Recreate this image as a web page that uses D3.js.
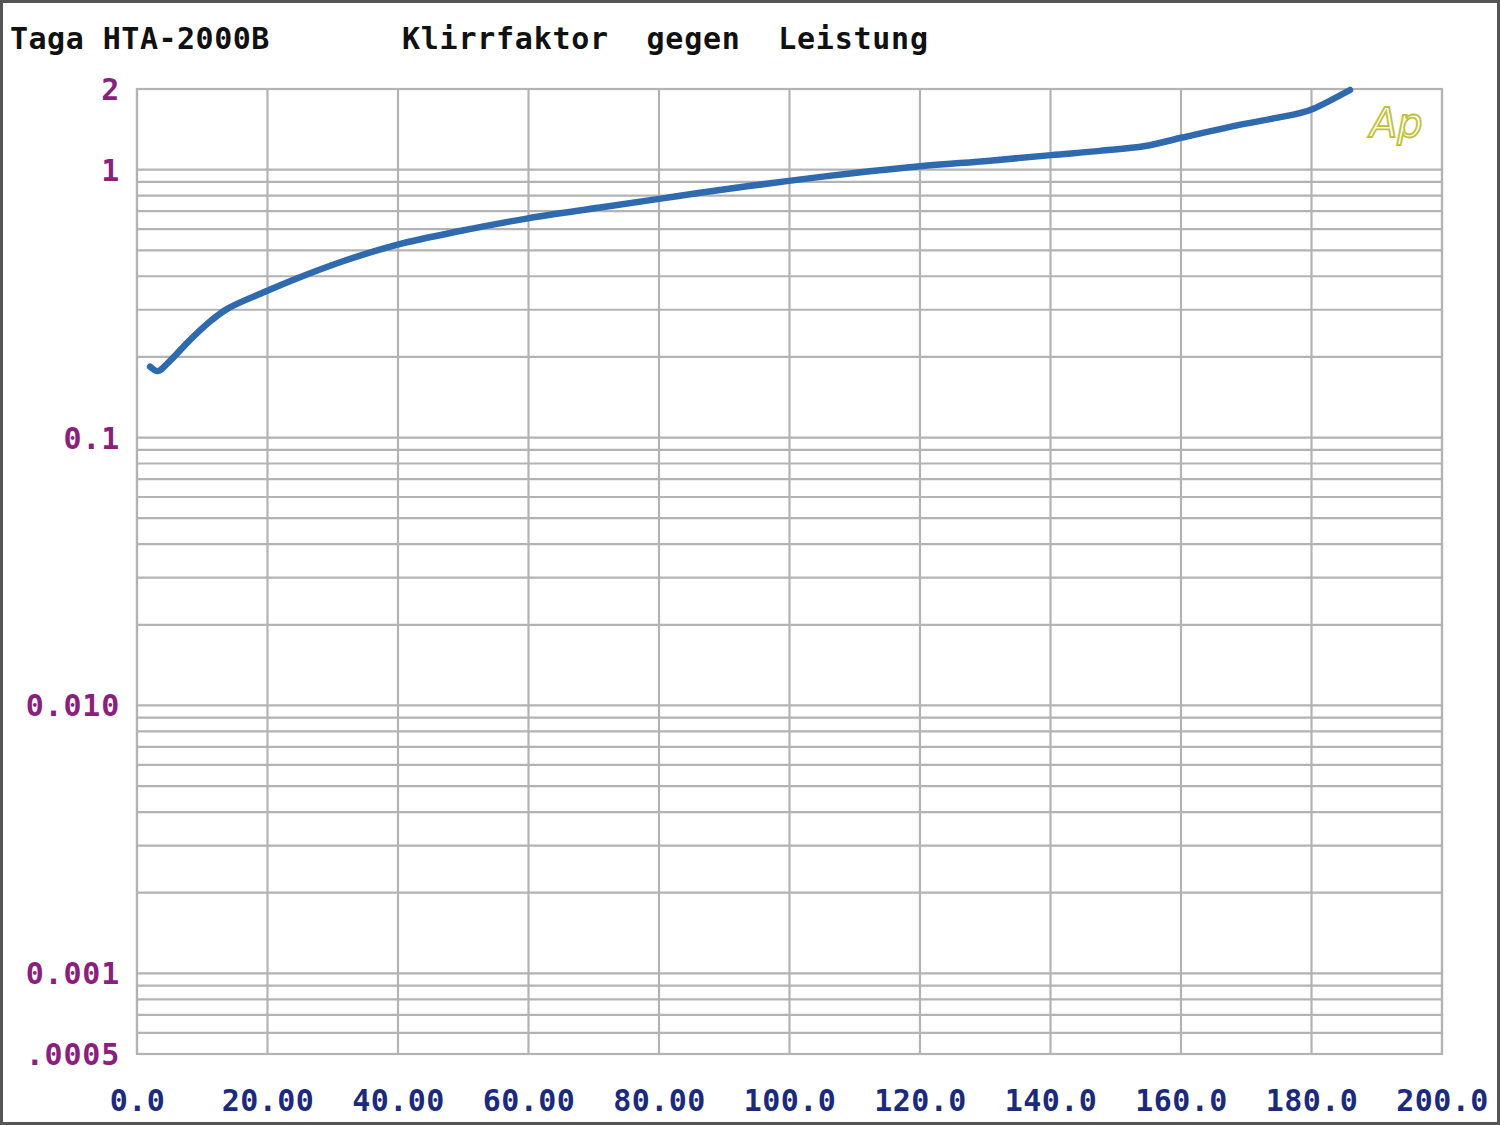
<!DOCTYPE html>
<html><head><meta charset="utf-8">
<script src="https://cdn.jsdelivr.net/npm/d3@7"></script>
<style>html,body{margin:0;padding:0;background:#fff;}svg{display:block;}</style>
</head><body>
<svg id="c" width="1500" height="1125"></svg>
<script>
// Data (power in W, THD in %)
const power = [2.0, 3.2, 4.75, 8.1, 11.5, 13.9, 19.6, 24.2, 31.9, 39.8, 49.5, 59.9, 71, 80, 86.3, 99.9, 109.3, 120, 130.7, 140.1, 147.6, 154.5, 160.2, 167.5, 175.2, 178.2, 180.2, 185.9];
const thd   = [0.184, 0.177, 0.190, 0.231, 0.275, 0.303, 0.350, 0.390, 0.458, 0.524, 0.590, 0.658, 0.722, 0.778, 0.820, 0.908, 0.968, 1.030, 1.080, 1.133, 1.175, 1.225, 1.318, 1.445, 1.570, 1.625, 1.684, 1.983];
const xTicks = [0, 20, 40, 60, 80, 100, 120, 140, 160, 180, 200];
const xTickLabels = ["0.0", "20.00", "40.00", "60.00", "80.00", "100.0", "120.0", "140.0", "160.0", "180.0", "200.0"];
const yTicks = [2, 1, 0.1, 0.01, 0.001, 0.0005];
const yTickLabels = ["2", "1", "0.1", "0.010", "0.001", ".0005"];
const titleLeft = "Taga HTA-2000B";
const titleRight = "Klirrfaktor  gegen  Leistung";

const svg = d3.select("#c");
const L = 137, R = 1442, T = 89, B = 1054;
const x = d3.scaleLinear().domain([0, 200]).range([L, R]);
const y = d3.scaleLog().domain([0.0005, 2]).range([B, T]);
const gridCol = "#b3b3b3";
const mono = "'DejaVu Sans Mono', 'Liberation Mono', monospace";

// outer frame
svg.append("rect").attr("x", 1.5).attr("y", 1.5).attr("width", 1497).attr("height", 1122)
  .attr("fill", "#fff").attr("stroke", "#555").attr("stroke-width", 3);

// horizontal minor grid: every 1..9 x decade within domain
const hLines = [];
for (let e = -4; e <= 0; e++) for (let m = 1; m <= 9; m++) {
  const v = m * Math.pow(10, e);
  if (v >= 0.0005 - 1e-12 && v <= 2 + 1e-9) hLines.push(v);
}
const g = svg.append("g");
g.selectAll("line.h").data(hLines).join("line")
  .attr("x1", L).attr("x2", R).attr("y1", d => y(d)).attr("y2", d => y(d))
  .attr("stroke", gridCol).attr("stroke-width", 2.2);
g.selectAll("line.v").data(xTicks).join("line")
  .attr("x1", d => x(d)).attr("x2", d => x(d)).attr("y1", T).attr("y2", B)
  .attr("stroke", gridCol).attr("stroke-width", 2.2);
g.append("rect").attr("x", L).attr("y", T).attr("width", R - L).attr("height", B - T)
  .attr("fill", "none").attr("stroke", gridCol).attr("stroke-width", 2.2);

// axes via d3 axis generators (labels only)
const yAxis = d3.axisLeft(y).tickValues(yTicks).tickFormat((d, i) => yTickLabels[i]).tickSize(0).tickPadding(0);
const ya = svg.append("g").attr("transform", `translate(${L - 17},0)`).call(yAxis);
ya.select(".domain").remove();
ya.selectAll("text").attr("font-family", mono).attr("font-weight", "bold").attr("font-size", 30)
  .attr("fill", "#8a1f80").attr("dy", "0.35em").attr("text-anchor", "end").attr("letter-spacing", 0.8);

const xAxis = d3.axisBottom(x).tickValues(xTicks).tickFormat((d, i) => xTickLabels[i]).tickSize(0).tickPadding(0);
const xa = svg.append("g").attr("transform", `translate(0,${B + 36})`).call(xAxis);
xa.select(".domain").remove();
xa.selectAll("text").attr("font-family", mono).attr("font-weight", "bold").attr("font-size", 30)
  .attr("fill", "#1c2a7e").attr("dy", "0.71em").attr("text-anchor", "middle").attr("letter-spacing", 0.4);

// title
svg.append("text").attr("x", 10).attr("y", 49).text(titleLeft)
  .attr("font-family", mono).attr("font-weight", "bold").attr("font-size", 30).attr("fill", "#111")
  .attr("letter-spacing", 0.5);
svg.append("text").attr("x", 402).attr("y", 49).text(titleRight).style("white-space", "pre")
  .attr("font-family", mono).attr("font-weight", "bold").attr("font-size", 30).attr("fill", "#111")
  .attr("letter-spacing", 0.75);

// curve
const pts = power.map((p, i) => [p, thd[i]]);
svg.append("path").datum(pts)
  .attr("d", d3.line().x(d => x(d[0])).y(d => y(d[1])).curve(d3.curveCatmullRom.alpha(0.5)))
  .attr("fill", "none").attr("stroke", "#2f6aae").attr("stroke-width", 6.5)
  .attr("stroke-linecap", "round").attr("stroke-linejoin", "round");

// Ap logo
svg.append("text").attr("x", 1370).attr("y", 137).text("Ap")
  .attr("font-family", "'DejaVu Sans', sans-serif").attr("font-style", "italic").attr("font-weight", 200)
  .attr("font-size", 40).attr("fill", "none").attr("stroke", "#c2c23a").attr("stroke-width", 1.8);
</script>
</body></html>
